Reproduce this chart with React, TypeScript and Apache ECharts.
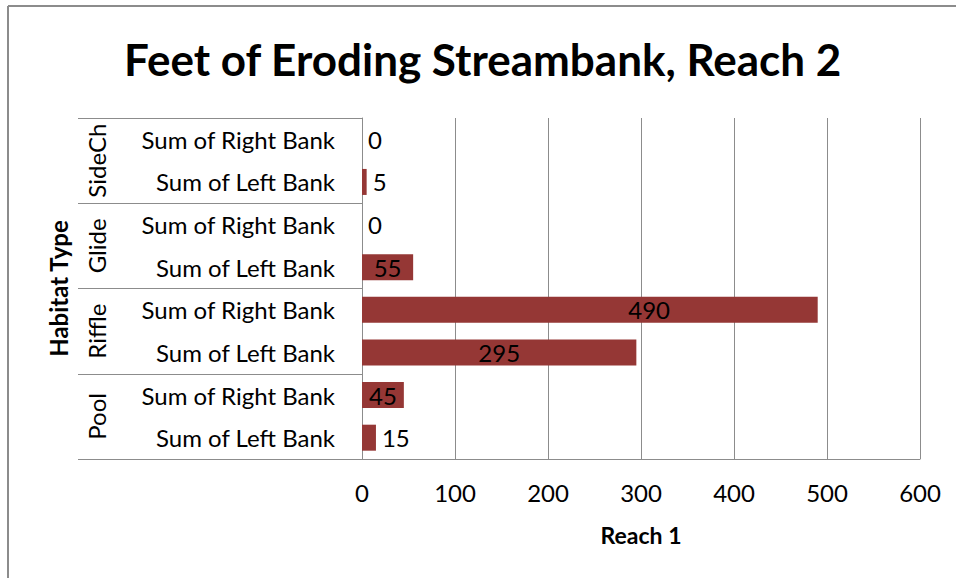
import React, { useEffect, useRef } from "react";
import * as echarts from "echarts";

// Data (bottom-to-top order, as ECharts draws a category y-axis)
const habitats = ["Pool", "Riffle", "Glide", "SideCh"];
const banks = ["Sum of Left Bank", "Sum of Right Bank"];
const leftBank = [15, 295, 55, 5];
const rightBank = [45, 490, 0, 0];
const xTicks = { min: 0, max: 600, interval: 100 };

const titleText = "Feet of Eroding Streambank, Reach 2";
const yName = "Habitat Type";
const xName = "Reach 1";

const FONT = "Lato";
const GRAY = "#8c8c8c";
const BAR = "#953735";

export default function App() {
  const ref = useRef<HTMLDivElement>(null);

  useEffect(() => {
    if (!ref.current) return;
    const chart = echarts.init(ref.current, null, { renderer: "svg" });

    const categories: string[] = [];
    const values: number[] = [];
    habitats.forEach((h, i) => {
      categories.push(h + "|" + banks[0]);
      values.push(leftBank[i]);
      categories.push(h + "|" + banks[1]);
      values.push(rightBank[i]);
    });
    const maxVal = Math.max(...values);

    const data = values.map((v) => {
      let label: any;
      if (v < 30) {
        label = { position: "right", distance: 6 };
      } else if (v === maxVal) {
        label = { position: ["63%", "50%"], align: "center", verticalAlign: "middle" };
      } else {
        label = { position: "inside" };
      }
      return { value: v, label };
    });

    chart.setOption({
      animation: false,
      backgroundColor: "#ffffff",
      title: {
        text: titleText,
        left: 119,
        top: 32,
        textStyle: { fontFamily: FONT, fontSize: 44, fontWeight: "bold", color: "#000" },
      },
      grid: { left: 362, right: 36, top: 118, bottom: 119, containLabel: false },
      xAxis: {
        type: "value",
        min: xTicks.min,
        max: xTicks.max,
        interval: xTicks.interval,
        axisLine: { show: true, lineStyle: { color: GRAY, width: 1 } },
        axisTick: { show: false },
        splitLine: { show: true, lineStyle: { color: GRAY, width: 1 } },
        axisLabel: { fontFamily: FONT, fontSize: 24, color: "#000", margin: 21 },
        name: xName,
        nameLocation: "middle",
        nameGap: 64,
        nameTextStyle: { fontFamily: FONT, fontSize: 23, fontWeight: "bold", color: "#000" },
      },
      yAxis: [
        {
          type: "category",
          data: categories,
          position: "left",
          axisLine: { show: true, lineStyle: { color: GRAY, width: 1 } },
          axisTick: { show: false },
          splitLine: { show: false },
          axisLabel: {
            interval: 0,
            fontFamily: FONT,
            fontSize: 24,
            color: "#000",
            margin: 27,
            formatter: (s: string) => s.split("|")[1],
          },
        },
        {
          type: "category",
          data: habitats,
          position: "left",
          offset: 284,
          axisLine: { show: true, lineStyle: { color: GRAY, width: 1, opacity: 0 } },
          axisTick: {
            show: true,
            interval: 0,
            inside: true,
            length: 284,
            lineStyle: { color: GRAY, width: 1 },
          },
          splitLine: { show: false },
          axisLabel: {
            interval: 0,
            inside: true,
            rotate: 90,
            fontFamily: FONT,
            fontSize: 24,
            color: "#000",
            margin: 6,
          },
          name: yName,
          nameLocation: "middle",
          nameRotate: 90,
          nameGap: 7,
          nameTextStyle: { fontFamily: FONT, fontSize: 24, fontWeight: "bold", color: "#000" },
        },
      ],
      series: [
        {
          type: "bar",
          yAxisIndex: 0,
          data,
          barWidth: 26,
          itemStyle: { color: BAR },
          label: {
            show: true,
            fontFamily: FONT,
            fontSize: 24,
            color: "#000",
          },
        },
      ],
      graphic: [
        { type: "line", shape: { x1: 8, y1: 6, x2: 956, y2: 6 }, style: { stroke: GRAY, lineWidth: 2 } },
        { type: "line", shape: { x1: 8, y1: 6, x2: 8, y2: 578 }, style: { stroke: GRAY, lineWidth: 2 } },
      ],
    });

    return () => chart.dispose();
  }, []);

  return (
    <div
      ref={ref}
      style={{ position: "absolute", left: 0, top: 0, width: 956, height: 578 }}
    />
  );
}
